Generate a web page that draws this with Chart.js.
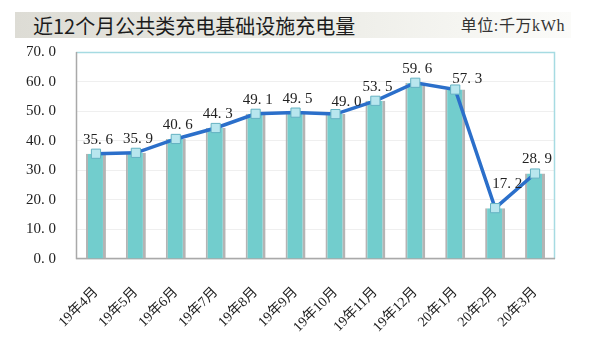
<!DOCTYPE html>
<html>
<head>
<meta charset="utf-8">
<script src="https://cdn.jsdelivr.net/npm/chart.js@4"></script>
<style>
  body { margin: 0; background: #fff; }
  #wrap { position: relative; width: 600px; height: 345px; overflow: hidden; }
  #band {
    position: absolute; left: 15px; top: 12px; width: 556px; height: 26px;
    background: linear-gradient(to right, #dddcd5 0%, #e9e9e3 45%, #f5f5f1 80%, #fbfbf9 100%);
  }
  #title {
    position: absolute; left: 33px; top: 11px; line-height: 28px;
    font: 20px "Noto Sans CJK SC", sans-serif; color: #1c1c1c;
  }
  #unit {
    position: absolute; right: 35px; top: 12px; line-height: 28px; letter-spacing: 0.6px;
    font: 16px "Liberation Serif", "Noto Sans CJK SC", serif; color: #333;
  }
  canvas { position: absolute; left: 0; top: 0; }
</style>
</head>
<body>
<div id="wrap">
  <div id="band"></div>
  <div id="title">近12个月公共类充电基础设施充电量</div>
  <div id="unit">单位:千万kWh</div>
  <canvas id="chart" width="600" height="345"></canvas>
</div>
<script>
// months and charging volume (千万kWh)
var months = ['19年4月', '19年5月', '19年6月', '19年7月', '19年8月', '19年9月',
              '19年10月', '19年11月', '19年12月', '20年1月', '20年2月', '20年3月'];
var charge = [35.6, 35.9, 40.6, 44.3, 49.1, 49.5, 49.0, 53.5, 59.6, 57.3, 17.2, 28.9];
var yMin = 0, yMax = 70, yStep = 10;

function fmt(v) {
  return v.toFixed(1).replace('.', '. ');
}

// label nudges where the original moved them off the line
var labelNudge = { 6: [11, -12], 9: [12, -10], 10: [12, -24] };

var framePlugin = {
  id: 'frame',
  beforeDatasetsDraw: function (chart) {
    var a = chart.chartArea, ctx = chart.ctx;
    ctx.save();
    ctx.lineWidth = 1.5;
    ctx.strokeStyle = '#a6dbe2';
    ctx.beginPath();
    ctx.moveTo(a.left, a.top + 0.5);
    ctx.lineTo(a.right - 0.5, a.top + 0.5);
    ctx.lineTo(a.right - 0.5, a.bottom);
    ctx.stroke();
    ctx.strokeStyle = '#a9a9a9';
    ctx.beginPath();
    ctx.moveTo(a.left + 0.5, a.top);
    ctx.lineTo(a.left + 0.5, a.bottom - 0.5);
    ctx.lineTo(a.right, a.bottom - 0.5);
    ctx.stroke();
    ctx.restore();
  }
};

var valueLabels = {
  id: 'valueLabels',
  afterDatasetsDraw: function (chart) {
    var meta = chart.getDatasetMeta(1), ctx = chart.ctx;
    ctx.save();
    ctx.font = '15px "Liberation Serif", serif';
    ctx.fillStyle = '#222';
    ctx.textAlign = 'center';
    ctx.textBaseline = 'middle';
    meta.data.forEach(function (pt, i) {
      var n = labelNudge[i] || [2, -14];
      ctx.fillText(fmt(charge[i]), pt.x + n[0], pt.y + n[1]);
    });
    ctx.restore();
  }
};

new Chart(document.getElementById('chart'), {
  data: {
    labels: months,
    datasets: [{
      type: 'bar',
      data: charge,
      backgroundColor: '#72cdcd',
      borderColor: '#b4b4b4',
      borderWidth: { left: 2, right: 3, top: 0, bottom: 0 },
      barPercentage: 0.5,
      categoryPercentage: 1.0,
      order: 2
    }, {
      type: 'line',
      data: charge,
      borderColor: '#2b6fca',
      borderWidth: 3.5,
      tension: 0,
      pointStyle: 'rect',
      pointRadius: 6.5,
      pointBackgroundColor: '#b8e6ee',
      pointBorderColor: '#64b2c2',
      pointBorderWidth: 1,
      order: 1
    }]
  },
  options: {
    responsive: false,
    animation: false,
    devicePixelRatio: 1,
    layout: { padding: { top: 52, right: 45, left: 0, bottom: 0 } },
    plugins: { legend: { display: false }, tooltip: { enabled: false } },
    scales: {
      x: {
        grid: { display: false, drawTicks: false },
        border: { display: false },
        afterFit: function (axis) { axis.height = 86; },
        ticks: {
          minRotation: 45, maxRotation: 45, padding: 25,
          color: '#222',
          font: { family: '"Liberation Serif", "Noto Sans CJK SC", serif', size: 14 }
        }
      },
      y: {
        min: yMin, max: yMax,
        afterFit: function (axis) { axis.width = 76; },
        grid: { color: '#efefef', drawTicks: false },
        border: { display: false },
        ticks: {
          stepSize: yStep, padding: 20, color: '#222',
          font: { family: '"Liberation Serif", serif', size: 15 },
          callback: function (v) { return fmt(v); }
        }
      }
    }
  },
  plugins: [framePlugin, valueLabels]
});
</script>
</body>
</html>
